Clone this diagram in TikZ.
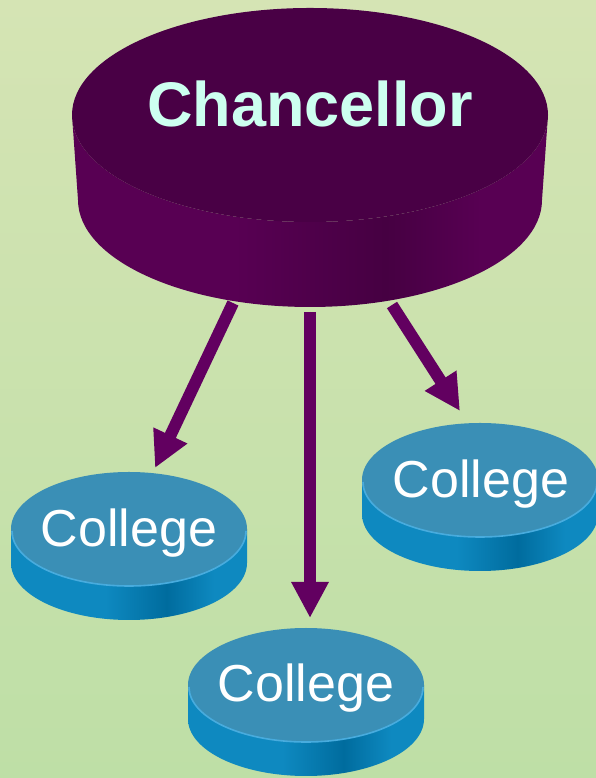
\documentclass[tikz,border=0pt]{standalone}
\usepackage{fontspec}
\newfontfamily\arial{Liberation Sans}
\usetikzlibrary{arrows.meta}
\definecolor{bgtop}{RGB}{213,228,180}
\definecolor{bgbot}{RGB}{190,223,166}
\definecolor{ptop}{RGB}{73,0,69}
\definecolor{pside}{RGB}{88,0,83}
\definecolor{pdark}{RGB}{70,0,66}
\definecolor{ptext}{RGB}{205,255,240}
\definecolor{arrowc}{RGB}{98,0,96}
\definecolor{ctop}{RGB}{58,143,182}
\definecolor{cside}{RGB}{14,137,192}
\definecolor{cdark}{RGB}{0,108,158}
\definecolor{crim}{RGB}{72,172,222}
\pgfdeclarehorizontalshading{collegeside}{100bp}{color(0bp)=(cside); color(25bp)=(cside); color(45bp)=(cside); color(58bp)=(cdark); color(68bp)=(cside); color(75bp)=(cside); color(100bp)=(cside)}
\pgfdeclarehorizontalshading{chanside}{100bp}{color(0bp)=(pside); color(25bp)=(pside); color(42bp)=(pside); color(58bp)=(pdark); color(68bp)=(pside); color(75bp)=(pside); color(100bp)=(pside)}
\tikzset{
  collegedisk/.pic={
    \shade[shading=collegeside] (-118,0) -- (-118,-34) arc[start angle=180,end angle=360,x radius=118,y radius=57] -- (118,0) arc[start angle=0,end angle=-180,x radius=118,y radius=57] -- cycle;
    \fill[ctop] (0,0) ellipse[x radius=118,y radius=57];
    \draw[crim,line width=1.6pt] (117,-2) arc[start angle=0,end angle=-180,x radius=117,y radius=55];
  },
  collegetext/.style={text=white,font=\arial\fontsize{52}{52}\selectfont,anchor=base,inner sep=0pt},
  chantext/.style={text=ptext,font=\arial\bfseries\fontsize{63}{63}\selectfont,anchor=base,inner sep=0pt},
  linkarrow/.style={draw=arrowc,line width=12pt,-{Triangle[width=35pt,length=36pt]},fill=arrowc}
}
\begin{document}
\begin{tikzpicture}[x=1pt,y=1pt]
\useasboundingbox (0,0) rectangle (596,778);
\shade[top color=bgtop,bottom color=bgbot] (0,0) rectangle (596,778);
% Chancellor cylinder
\shade[shading=chanside] (72,663) -- (78,578) arc[start angle=180,end angle=360,x radius=232,y radius=107] -- (548,663) arc[start angle=0,end angle=-180,x radius=238,y radius=107] -- cycle;
\fill[ptop] (310,663) ellipse[x radius=238,y radius=107];
\node[chantext] (chancellor) at (310,651) {Chancellor};
% College disks
\pic at (129,249) {collegedisk};
\pic at (480,298) {collegedisk};
\pic at (306,93) {collegedisk};
\node[collegetext] (college1) at (129,231) {College};
\node[collegetext] (college2) at (481,280) {College};
\node[collegetext] (college3) at (306,76) {College};
% arrow ends
\coordinate (s1) at (233,475);
\coordinate (e1) at (155,310);
\coordinate (s2) at (310,466);
\coordinate (e2) at (310,160);
\coordinate (s3) at (392,473);
\coordinate (e3) at (460,367);
\draw[linkarrow] (s1) -- (e1);
\draw[linkarrow] (s2) -- (e2);
\draw[linkarrow] (s3) -- (e3);
\end{tikzpicture}
\end{document}
